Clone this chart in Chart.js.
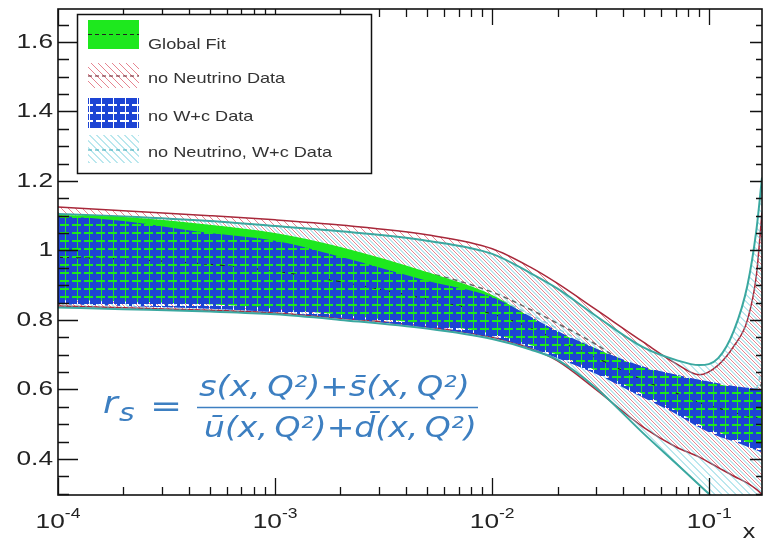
<!DOCTYPE html>
<html>
<head>
<meta charset="utf-8">
<script src="https://cdn.jsdelivr.net/npm/chart.js@4.4.1/dist/chart.umd.min.js"></script>
<style>
    body { margin: 0; background: #fff; }
    #wrap { width: 764px; height: 540px; }
</style>
</head>
<body>
<div id="wrap"><canvas id="rsChart" width="764" height="540"></canvas></div>
<script>
/* x grid of the bands (Bjorken x) */
var xValues = [1e-4, 2e-4, 5e-4, 1e-3, 2e-3, 5e-3, 1e-2, 1.5e-2, 2e-2, 3e-2, 5e-2, 7e-2, 0.09, 0.11, 0.13, 0.15, 0.165, 0.175];

/* Global Fit */
var globalLow  = [0.858, 0.853, 0.845, 0.833, 0.815, 0.788, 0.760, 0.728, 0.700, 0.655, 0.585, 0.540, 0.500, 0.477, 0.460, 0.447, 0.437, 0.430];
var globalHigh = [1.102, 1.096, 1.074, 1.050, 1.010, 0.938, 0.872, 0.808, 0.765, 0.718, 0.662, 0.640, 0.625, 0.615, 0.607, 0.602, 0.599, 0.597];
var globalMid  = [0.980, 0.975, 0.960, 0.940, 0.910, 0.860, 0.817, 0.778, 0.741, 0.692, 0.625, 0.590, 0.562, 0.546, 0.533, 0.524, 0.518, 0.513];

/* no Neutrino Data */
var noNuLow  = [0.840, 0.835, 0.828, 0.820, 0.805, 0.780, 0.750, 0.718, 0.682, 0.600, 0.490, 0.435, 0.405, 0.375, 0.350, 0.330, 0.312, 0.298];
var noNuHigh = [1.125, 1.114, 1.100, 1.088, 1.073, 1.045, 1.005, 0.952, 0.905, 0.830, 0.735, 0.675, 0.642, 0.670, 0.725, 0.800, 0.930, 1.110];
var noNuMid  = [0.985, 0.982, 0.976, 0.970, 0.962, 0.935, 0.880, 0.830, 0.790, 0.730, 0.640, 0.590, 0.555, 0.540, 0.540, 0.555, 0.585, 0.620];

/* no W+c Data */
var noWcLow  = [0.845, 0.840, 0.832, 0.822, 0.805, 0.778, 0.750, 0.720, 0.690, 0.645, 0.575, 0.530, 0.490, 0.465, 0.450, 0.435, 0.425, 0.418];
var noWcHigh = [1.100, 1.085, 1.050, 1.028, 0.982, 0.913, 0.866, 0.810, 0.768, 0.718, 0.665, 0.643, 0.628, 0.618, 0.610, 0.605, 0.602, 0.600];

/* no Neutrino, W+c Data */
var noNuWcLow  = [0.836, 0.831, 0.824, 0.816, 0.800, 0.775, 0.745, 0.715, 0.685, 0.605, 0.472, 0.388, 0.325, 0.275, 0.235, 0.205, 0.185, 0.170];
var noNuWcHigh = [1.105, 1.098, 1.085, 1.070, 1.055, 1.028, 0.990, 0.935, 0.890, 0.812, 0.720, 0.685, 0.670, 0.690, 0.770, 0.900, 1.060, 1.210];
var noNuWcMid  = [0.978, 0.975, 0.970, 0.963, 0.955, 0.925, 0.868, 0.815, 0.775, 0.715, 0.620, 0.560, 0.515, 0.500, 0.505, 0.540, 0.600, 0.660];

var seriesNames = ['Global Fit', 'no Neutrino Data', 'no W+c Data', 'no Neutrino, W+c Data'];
var yTickValues = [0.4, 0.6, 0.8, 1, 1.2, 1.4, 1.6];
var yTickLabels = ['0.4', '0.6', '0.8', '1', '1.2', '1.4', '1.6'];
var xDecades = [1e-4, 1e-3, 1e-2, 1e-1];
var xDecadeExp = ['-4', '-3', '-2', '-1'];

var TXT = '"Liberation Sans", Arial, sans-serif';
var STRETCH = 1.25;

function pts(arr) {
    return xValues.map(function (x, i) { return { x: x, y: arr[i] }; });
}

/* diagonal hatch "\" */
function makeHatch(color, s, shift) {
    var c = document.createElement('canvas');
    c.width = s; c.height = s;
    var g = c.getContext('2d');
    g.strokeStyle = color;
    g.lineWidth = 1;
    g.beginPath();
    for (var k = -2; k <= 2; k++) {
        var off = k * s + shift;
        g.moveTo(-s + off, -s);
        g.lineTo(2 * s + off, 2 * s);
    }
    g.stroke();
    return g.createPattern(c, 'repeat');
}

/* blue fill with see-through dashed grid */
function makeBluePattern() {
    var c = document.createElement('canvas');
    c.width = 12; c.height = 8;
    var g = c.getContext('2d');
    g.fillStyle = '#1d44d4';
    g.fillRect(0, 0, 12, 8);
    g.clearRect(0, 0, 9, 2);
    g.clearRect(5, 2, 1, 6);
    return g.createPattern(c, 'repeat');
}

var redHatch = makeHatch('rgba(226,110,125,0.85)', 7, 0);
var cyanHatch = makeHatch('rgba(95,200,215,0.85)', 7, 3.5);
var bluePattern = makeBluePattern();
var greenFill = '#1ee81e';
var redLine = '#a8283a';
var tealLine = '#3aa8a0';
var none = 'rgba(0,0,0,0)';

/* text squeezed/stretched horizontally like the original picture */
function sText(ctx, txt, x, y, align, sx) {
    var w = ctx.measureText(txt).width * sx;
    var x0 = align === 'right' ? x - w : (align === 'center' ? x - w / 2 : x);
    ctx.save();
    ctx.translate(x0, y);
    ctx.scale(sx, 1);
    ctx.textAlign = 'left';
    ctx.fillText(txt, 0, 0);
    ctx.restore();
    return w;
}
function fitText(ctx, txt, x, y, width) {
    var w = ctx.measureText(txt).width;
    ctx.save();
    ctx.translate(x, y);
    ctx.scale(width / w, 1);
    ctx.textAlign = 'left';
    ctx.fillText(txt, 0, 0);
    ctx.restore();
}

var rootFrame = {
    id: 'rootFrame',
    afterDraw: function (chart) {
        var ctx = chart.ctx, a = chart.chartArea;
        var xs = chart.scales.x, ys = chart.scales.y;
        ctx.save();

        /* frame */
        ctx.strokeStyle = '#111';
        ctx.lineWidth = 1.6;
        ctx.strokeRect(a.left, a.top, a.right - a.left, a.bottom - a.top);

        /* ticks pointing inwards */
        ctx.lineWidth = 1.3;
        ctx.beginPath();
        for (var e = -4; e <= -1; e++) {
            for (var m = 1; m <= 9; m++) {
                var v = m * Math.pow(10, e);
                if (v < xs.min || v > xs.max) continue;
                var px = Math.round(xs.getPixelForValue(v)) + 0.5;
                var big = (m === 1);
                ctx.moveTo(px, a.bottom); ctx.lineTo(px, a.bottom - (big ? 17 : 8));
                ctx.moveTo(px, a.top); ctx.lineTo(px, a.top + (big ? 16 : 8));
            }
        }
        for (var k = 6; k <= 34; k++) {
            var yv = k * 0.05;
            if (yv < ys.min || yv > ys.max) continue;
            var py = Math.round(ys.getPixelForValue(yv)) + 0.5;
            var major = (k % 4 === 0);
            ctx.moveTo(a.left, py); ctx.lineTo(a.left + (major ? 20 : 11), py);
            ctx.moveTo(a.right, py); ctx.lineTo(a.right - (major ? 12 : 6), py);
        }
        ctx.stroke();

        /* y labels */
        ctx.fillStyle = '#222';
        ctx.font = '21px ' + TXT;
        ctx.textBaseline = 'alphabetic';
        yTickValues.forEach(function (v, i) {
            sText(ctx, yTickLabels[i], a.left - 5, ys.getPixelForValue(v) + 6, 'right', STRETCH);
        });

        /* x labels 10^n */
        xDecades.forEach(function (v, i) {
            var cx = xs.getPixelForValue(v);
            ctx.font = '21px ' + TXT;
            var wb = ctx.measureText('10').width * STRETCH;
            ctx.font = '14px ' + TXT;
            var we = ctx.measureText(xDecadeExp[i]).width * STRETCH;
            var x0 = cx - (wb + we) / 2;
            ctx.font = '21px ' + TXT;
            sText(ctx, '10', x0, 528, 'left', STRETCH);
            ctx.font = '14px ' + TXT;
            sText(ctx, xDecadeExp[i], x0 + wb, 518, 'left', STRETCH);
        });
        ctx.font = '20px ' + TXT;
        sText(ctx, 'x', 749, 538, 'center', STRETCH);

        /* legend */
        var lx = 77, ly = 14, lw = 294, lh = 159;
        ctx.fillStyle = '#fff';
        ctx.fillRect(lx, ly, lw, lh);
        ctx.strokeStyle = '#111';
        ctx.lineWidth = 1.5;
        ctx.strokeRect(lx + 0.5, ly + 0.5, lw, lh);
        var sw = [
            { r: [88, 20, 51, 29], fill: greenFill, dash: '#222', dy: 34.5, base: 49 },
            { r: [88, 63, 51, 25], fill: redHatch, dash: '#6a1c28', dy: 76, base: 83 },
            { r: [88, 98, 51, 30], fill: bluePattern, dash: null, dy: 113, base: 121 },
            { r: [88, 135, 51, 28], fill: cyanHatch, dash: '#3aa8b8', dy: 150, base: 157 }
        ];
        sw.forEach(function (s, i) {
            ctx.fillStyle = s.fill;
            ctx.fillRect(s.r[0], s.r[1], s.r[2], s.r[3]);
            if (s.dash) {
                ctx.strokeStyle = s.dash;
                ctx.lineWidth = 1.2;
                ctx.setLineDash([4, 3]);
                ctx.beginPath();
                ctx.moveTo(s.r[0], s.dy); ctx.lineTo(s.r[0] + s.r[2], s.dy);
                ctx.stroke();
                ctx.setLineDash([]);
            }
            ctx.fillStyle = '#333';
            ctx.font = '15px ' + TXT;
            sText(ctx, seriesNames[i], 148, s.base, 'left', 1.21);
        });

        /* formula */
        ctx.fillStyle = '#3d7fc1';
        ctx.font = 'italic 30px "DejaVu Sans"';
        sText(ctx, 'r', 103, 413, 'left', 1.2);
        ctx.font = 'italic 25px "DejaVu Sans"';
        sText(ctx, 's', 119, 421, 'left', 1.2);
        ctx.font = '30px "DejaVu Sans"';
        sText(ctx, '=', 166, 416, 'center', 1.28);
        ctx.font = 'italic 28px "DejaVu Sans"';
        fitText(ctx, 's(x,\u2009Q\u00b2)+s\u0304(x,\u2009Q\u00b2)', 199, 396, 271);
        fitText(ctx, '\u016b(x,\u2009Q\u00b2)+d\u0304(x,\u2009Q\u00b2)', 204, 437, 273);
        ctx.strokeStyle = '#3d7fc1';
        ctx.lineWidth = 1.6;
        ctx.beginPath();
        ctx.moveTo(197, 407.5); ctx.lineTo(478, 407.5);
        ctx.stroke();

        ctx.restore();
    }
};

var chartDiv = document.getElementById('rsChart');
var myChart = new Chart(chartDiv, {
    type: 'line',
    data: {
        datasets: [
            { label: 'noNuLow', data: pts(noNuLow), borderColor: redLine, borderWidth: 1.5, fill: false, order: 10 },
            { label: seriesNames[1], data: pts(noNuHigh), borderColor: redLine, borderWidth: 1.5, backgroundColor: redHatch, fill: { target: 0 }, order: 10 },
            { label: 'noNuWcLow', data: pts(noNuWcLow), borderColor: tealLine, borderWidth: 2, fill: false, order: 9 },
            { label: seriesNames[3], data: pts(noNuWcHigh), borderColor: tealLine, borderWidth: 2, backgroundColor: cyanHatch, fill: { target: 2 }, order: 9 },
            { label: 'noNuMid', data: pts(noNuMid), borderColor: '#666', borderWidth: 1.5, borderDash: [5, 4], fill: false, order: 8 },
            { label: 'noNuWcMid', data: pts(noNuWcMid), borderColor: '#8ccfd8', borderWidth: 1.5, borderDash: [5, 4], fill: false, order: 8 },
            { label: 'globalLow', data: pts(globalLow), borderColor: none, borderWidth: 0, fill: false, order: 7 },
            { label: seriesNames[0], data: pts(globalHigh), borderColor: none, borderWidth: 0, backgroundColor: greenFill, fill: { target: 6 }, order: 7 },
            { label: 'globalMid', data: pts(globalMid), borderColor: '#222', borderWidth: 1.2, borderDash: [5, 4], fill: false, order: 6 },
            { label: 'noWcLow', data: pts(noWcLow), borderColor: none, borderWidth: 0, fill: false, order: 5 },
            { label: seriesNames[2], data: pts(noWcHigh), borderColor: none, borderWidth: 0, backgroundColor: bluePattern, fill: { target: 9 }, order: 5 }
        ]
    },
    options: {
        responsive: false,
        animation: false,
        events: [],
        devicePixelRatio: 1,
        layout: { padding: { left: 58, right: 2, top: 9, bottom: 45 } },
        elements: {
            point: { radius: 0, hoverRadius: 0 },
            line: { cubicInterpolationMode: 'monotone' }
        },
        scales: {
            x: { type: 'logarithmic', min: 1e-4, max: 0.175, display: false },
            y: { type: 'linear', min: 0.296, max: 1.695, display: false }
        },
        plugins: {
            legend: { display: false },
            tooltip: { enabled: false },
            filler: { propagate: false }
        }
    },
    plugins: [rootFrame]
});
</script>
</body>
</html>
